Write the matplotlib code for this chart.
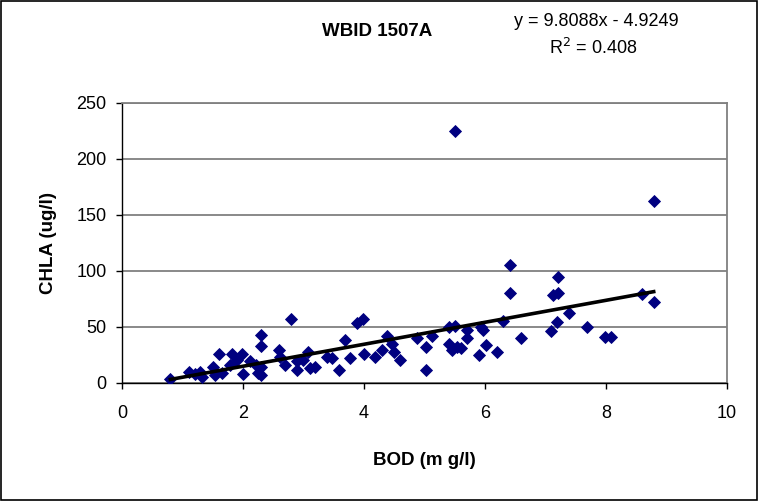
import matplotlib.pyplot as plt
import numpy as np

plt.rcParams['font.family'] = ['Liberation Sans', 'DejaVu Sans']

# BOD (mg/l) vs CHLA (ug/l)
bod = [0.8, 1.1, 1.21, 1.29, 1.32, 1.5, 1.54, 1.6, 1.65, 1.79,
       1.82, 1.9, 1.98, 2.0, 2.12, 2.22, 2.25, 2.3, 2.3, 2.3,
       2.3, 2.59, 2.62, 2.7, 2.79, 2.89, 2.89, 3.0, 3.08, 3.11,
       3.19, 3.39, 3.47, 3.58, 3.69, 3.77, 3.89, 3.98, 4.0, 4.19,
       4.3, 4.38, 4.46, 4.49, 4.6, 4.88, 5.02, 5.02, 5.13, 5.4,
       5.4, 5.46, 5.51, 5.51, 5.54, 5.6, 5.71, 5.71, 5.9, 5.93,
       5.96, 6.01, 6.2, 6.3, 6.41, 6.41, 6.6, 7.1, 7.12, 7.19,
       7.2, 7.2, 7.39, 7.69, 7.98, 8.08, 8.59, 8.79, 8.79]
chla = [3.5, 10, 8, 10, 5.5, 14, 7, 26, 9, 16,
        26, 20, 26, 8, 19, 16, 9, 43, 33, 14,
        7, 29, 23, 16, 57, 19, 11, 20, 27, 13,
        14, 23, 22, 11, 38, 22, 53, 57, 26, 23,
        29, 42, 35, 27, 20, 40, 32, 11, 42, 50,
        35, 29, 51, 225, 32, 31, 40, 47, 25, 50,
        47, 34, 27, 55, 105, 80, 40, 46, 78, 54,
        80, 94, 62, 50, 41, 41, 79, 72, 162]

slope, intercept = 9.8088, -4.9249
r2 = 0.408

fig = plt.figure(figsize=(7.59, 5.01), dpi=100)
fig.patches.append(plt.Rectangle((0.001, 0.001), 0.997, 0.997, transform=fig.transFigure,
                                 fill=False, edgecolor='black', linewidth=1.2))
ax = fig.add_axes([0.1607, 0.2361, 0.797, 0.559])

ax.plot(bod, chla, linestyle='none', marker='D', markersize=6.4,
        color='#000080', markeredgecolor='#000080', markeredgewidth=0.6, zorder=3)

xfit = np.array([min(bod), max(bod)])
ax.plot(xfit, slope * xfit + intercept, color='black', linewidth=2.6, zorder=4)

ax.set_xlim(0, 10)
ax.set_ylim(0, 250)
ax.set_xticks([0, 2, 4, 6, 8, 10])
ax.set_yticks([0, 50, 100, 150, 200, 250])
ax.yaxis.grid(True, color='#808080', linewidth=1.3)
ax.set_axisbelow(True)
for side in ['top', 'right']:
    ax.spines[side].set_color('#808080')
    ax.spines[side].set_linewidth(1.3)
for side in ['left', 'bottom']:
    ax.spines[side].set_color('black')
    ax.spines[side].set_linewidth(1.0)
ax.tick_params(axis='both', labelsize=13, direction='out', length=4, width=1)
ax.tick_params(axis='x', pad=12)
ax.tick_params(axis='y', pad=7)

ax.set_xlabel('BOD (m g/l)', fontsize=13.5, fontweight='bold', labelpad=22)
ax.set_ylabel('CHLA (ug/l)', fontsize=13.5, fontweight='bold', labelpad=14)

fig.text(0.497, 0.938, 'WBID 1507A', ha='center', va='center', fontsize=13.5, fontweight='bold')
fig.text(0.786, 0.958, f'y = {slope}x - {abs(intercept)}', ha='center', va='center', fontsize=13)
fig.text(0.781, 0.904, f'R$^2$ = {r2}', ha='center', va='center', fontsize=13)

fig.savefig('out.png', dpi=100)
